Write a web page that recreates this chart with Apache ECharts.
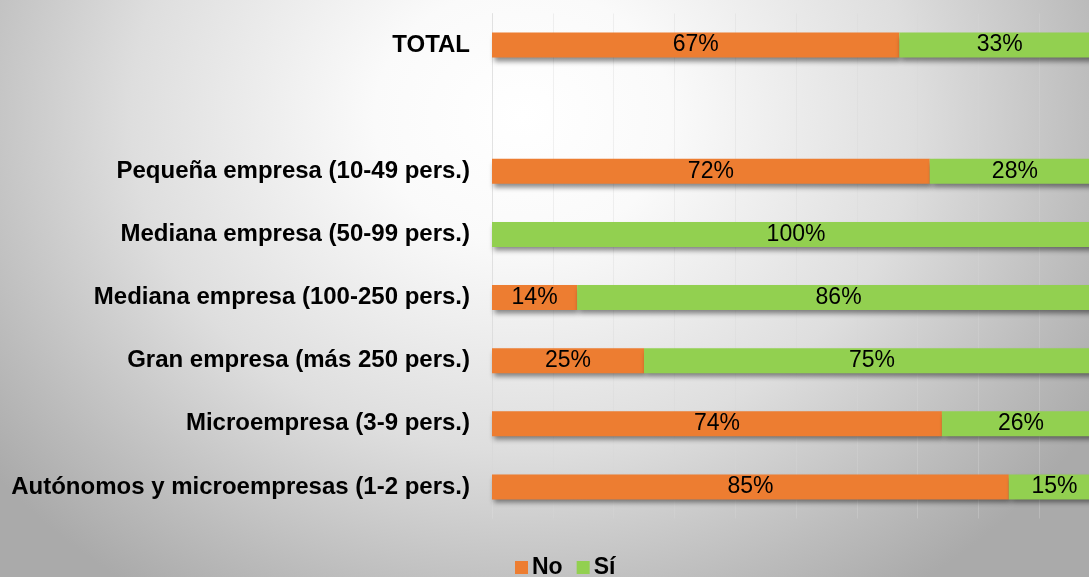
<!DOCTYPE html>
<html>
<head>
<meta charset="utf-8">
<script src="https://cdn.jsdelivr.net/npm/echarts@6/dist/echarts.min.js"></script>
<style>
  html, body { margin: 0; padding: 0; }
  body {
    width: 1089px; height: 577px; overflow: hidden;
    background: radial-gradient(ellipse 62% 100% at 48% 20%, #ffffff 0%, #fafafa 22%, #dedede 58%, #bcbcbc 85%, #aaaaaa 100%);
  }
  #chart { width: 1089px; height: 577px; }
</style>
</head>
<body>
<div id="chart"></div>
<script>
// Company size groups, listed bottom to top; the empty entry leaves a gap below TOTAL
const categories = [
  'Autónomos y microempresas (1-2 pers.)',
  'Microempresa (3-9 pers.)',
  'Gran empresa (más 250 pers.)',
  'Mediana empresa (100-250 pers.)',
  'Mediana empresa (50-99 pers.)',
  'Pequeña empresa (10-49 pers.)',
  '',
  'TOTAL'
];
const valuesNo = [85, 74, 25, 14, 0, 72, null, 67];
const valuesSi = [15, 26, 75, 86, 100, 28, null, 33];
const seriesNames = ['No', 'Sí'];

const FONT = "'Liberation Sans', Arial, sans-serif";

const chart = echarts.init(document.getElementById('chart'), null, { renderer: 'canvas' });

const barShadow = {
  shadowBlur: 5,
  shadowOffsetX: 2,
  shadowOffsetY: 4,
  shadowColor: 'rgba(0,0,0,0.45)'
};

const pctLabel = {
  show: true,
  position: 'inside',
  color: '#000',
  fontFamily: FONT,
  fontSize: 23,
  formatter: p => (p.value ? p.value + '%' : '')
};

chart.setOption({
  backgroundColor: 'transparent',
  animation: false,
  // the value axis runs slightly past the right edge of the page
  grid: {
    left: 492, width: 608, top: 13.5, bottom: 58.5,
    containLabel: false,
    outerBoundsMode: 'none'
  },
  legend: {
    top: 556,
    left: 515,
    padding: 0,
    itemWidth: 13,
    itemHeight: 13,
    itemGap: 14,
    icon: 'rect',
    textStyle: {
      fontFamily: FONT,
      fontSize: 23,
      fontWeight: 'bold',
      color: '#000',
      padding: [0, 0, 0, -1]
    },
    data: seriesNames
  },
  xAxis: {
    type: 'value',
    min: 0,
    max: 100,
    interval: 10,
    axisLabel: { show: false },
    axisLine: { show: false },
    axisTick: { show: false },
    splitLine: { show: true, lineStyle: { color: 'rgba(215,215,215,0.35)', width: 1 } }
  },
  yAxis: {
    type: 'category',
    data: categories,
    axisTick: { show: false },
    axisLine: { show: true, lineStyle: { color: 'rgba(215,215,215,0.6)' } },
    axisLabel: {
      margin: 22,
      color: '#000',
      fontFamily: FONT,
      fontSize: 24,
      fontWeight: 'bold'
    }
  },
  series: [
    {
      name: seriesNames[0],
      type: 'bar',
      stack: 'total',
      barWidth: 25,
      data: valuesNo,
      itemStyle: Object.assign({ color: '#ED7D31' }, barShadow),
      label: pctLabel
    },
    {
      name: seriesNames[1],
      type: 'bar',
      stack: 'total',
      barWidth: 25,
      data: valuesSi,
      itemStyle: Object.assign({ color: '#92D050' }, barShadow),
      label: pctLabel
    }
  ]
});
</script>
</body>
</html>
